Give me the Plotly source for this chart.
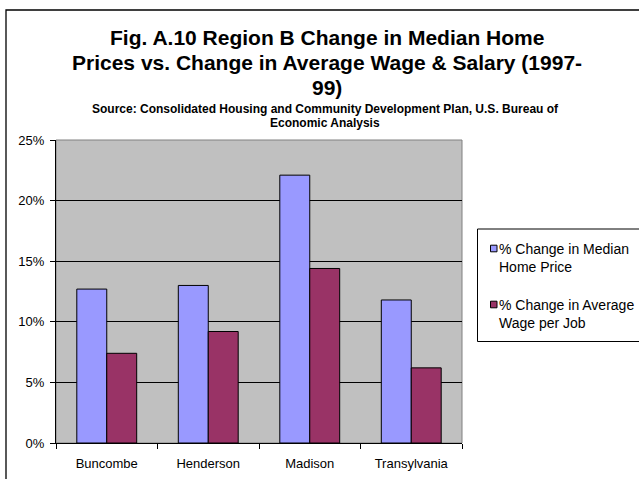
import plotly.graph_objects as go

# ---- data ----
categories = ["Buncombe", "Henderson", "Madison", "Transylvania"]
home_price_change = [0.127, 0.130, 0.221, 0.118]
wage_change = [0.074, 0.092, 0.144, 0.062]
series_names = ["% Change in Median Home Price", "% Change in Average Wage per Job"]
legend_lines = [["% Change in Median", "Home Price"], ["% Change in Average", "Wage per Job"]]
y_tick_vals = [0, 0.05, 0.10, 0.15, 0.20, 0.25]
title_lines = ["Fig. A.10 Region B Change in Median Home",
               "Prices vs. Change in Average Wage & Salary (1997-",
               "99)"]
subtitle_lines = ["Source: Consolidated Housing and Community Development Plan, U.S. Bureau of",
                  "Economic Analysis"]

# ---- layout geometry (pixels) ----
W, H = 639, 479
PL, PR, PT, PB = 56, 462, 140, 443
FONT = "Liberation Sans, Arial, sans-serif"
colors = ["#9999FF", "#993366"]


def px(x):
    return (x - PL) / (PR - PL)


def py(y):
    return (PB - y) / (PB - PT)


fig = go.Figure()
for vals, name, col in zip([home_price_change, wage_change], series_names, colors):
    fig.add_trace(go.Bar(x=categories, y=vals, name=name, marker=dict(color=col, line=dict(color="black", width=1)),
                         showlegend=False))

annotations = []
title_y = [38, 63, 87]
for t, yy in zip(title_lines, title_y):
    annotations.append(dict(text="<b>%s</b>" % t, x=px(327), y=py(yy), xref="paper", yref="paper",
                            xanchor="center", yanchor="middle", showarrow=False,
                            font=dict(family=FONT, size=21, color="black")))
sub_y = [109, 123]
for t, yy in zip(subtitle_lines, sub_y):
    annotations.append(dict(text="<b>%s</b>" % t, x=px(325), y=py(yy), xref="paper", yref="paper",
                            xanchor="center", yanchor="middle", showarrow=False,
                            font=dict(family=FONT, size=12, color="black")))

shapes = []
# outer chart border (left & top visible)
shapes.append(dict(type="rect", xref="paper", yref="paper", x0=px(6), x1=px(700), y0=py(520), y1=py(10),
                   line=dict(color="black", width=1.3), fillcolor="rgba(0,0,0,0)", layer="below"))
# plot area border
shapes.append(dict(type="rect", xref="paper", yref="paper", x0=0, x1=1, y0=0, y1=1,
                   line=dict(color="#808080", width=1), fillcolor="rgba(0,0,0,0)", layer="below"))
# legend box
shapes.append(dict(type="rect", xref="paper", yref="paper", x0=px(477.5), x1=px(700), y0=py(341.5), y1=py(229),
                   line=dict(color="black", width=1), fillcolor="white", layer="above"))
legend_y = [(248.5, 258), (304.5, 314)]
for (sq_y, txt_y), lines, col in zip(legend_y, legend_lines, colors):
    shapes.append(dict(type="rect", xref="paper", yref="paper", x0=px(490.5), x1=px(497), y0=py(sq_y + 3.3),
                       y1=py(sq_y - 3.3), line=dict(color="black", width=1), fillcolor=col, layer="above"))
    annotations.append(dict(text="<br>".join(lines), x=px(496.5), y=py(txt_y), xref="paper", yref="paper",
                            xanchor="left", yanchor="middle", align="left", showarrow=False,
                            font=dict(family=FONT, size=14, color="black")))

fig.update_layout(
    width=W, height=H,
    margin=dict(l=PL, r=W - PR, t=PT, b=H - PB, autoexpand=False),
    paper_bgcolor="white", plot_bgcolor="#C0C0C0",
    barmode="group", bargap=0.41, bargroupgap=0,
    font=dict(family=FONT, size=13, color="black"),
    annotations=annotations, shapes=shapes,
    showlegend=False,
)
fig.update_xaxes(showline=True, linecolor="black", linewidth=1, ticks="outside", ticklen=5, tickcolor="black",
                 tickson="boundaries", showgrid=False, ticklabelstandoff=8,
                 tickfont=dict(family=FONT, size=13, color="black"))
fig.update_yaxes(range=[0, 0.25], tickvals=y_tick_vals, tickformat=".0%", showline=True, linecolor="black",
                 linewidth=1, ticks="outside", ticklen=5, tickcolor="black", showgrid=True, gridcolor="black",
                 gridwidth=1, zeroline=False, ticklabelstandoff=3,
                 tickfont=dict(family=FONT, size=13, color="black"))

fig.write_html("out.html", config={"displayModeBar": False},
               post_script="document.body.style.margin='0';document.body.style.overflow='hidden';")
